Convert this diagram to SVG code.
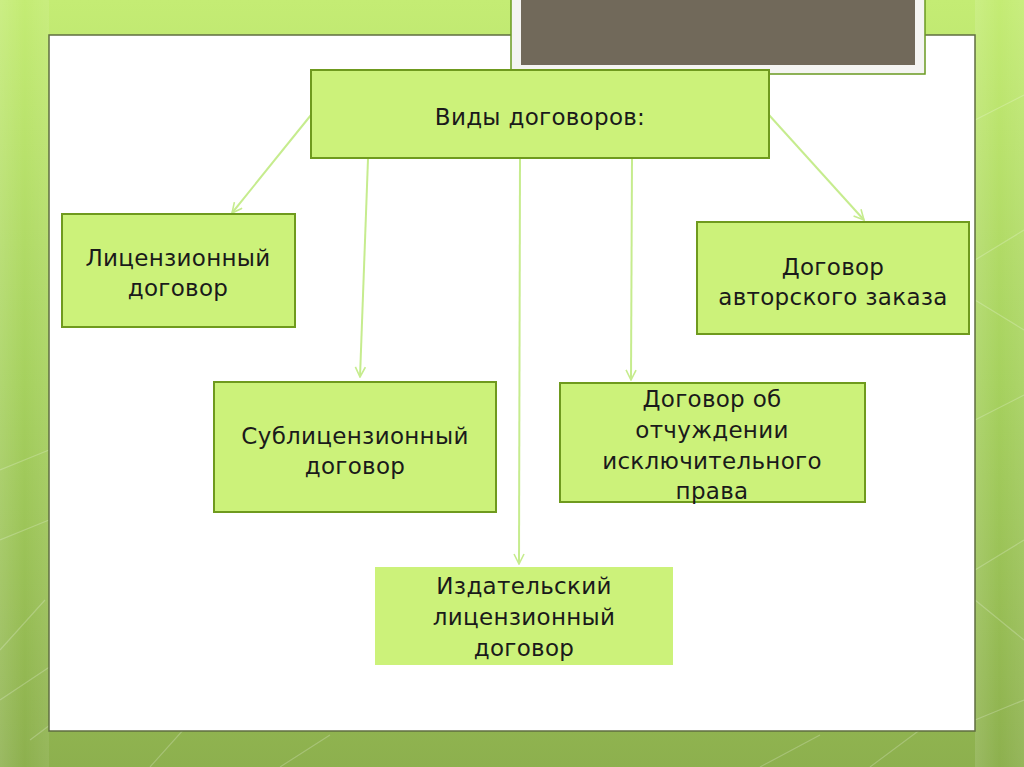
<svg xmlns="http://www.w3.org/2000/svg" width="1024" height="767" viewBox="0 0 1024 767">
<defs>
<linearGradient id="bg" x1="0" y1="0" x2="0" y2="1">
<stop offset="0" stop-color="#c4ec74"/>
<stop offset="0.5" stop-color="#a6d15e"/>
<stop offset="1" stop-color="#8db04e"/>
</linearGradient>
<linearGradient id="side" x1="0" y1="0" x2="1" y2="0">
<stop offset="0" stop-color="#ffffff" stop-opacity="0.12"/>
<stop offset="0.5" stop-color="#ffffff" stop-opacity="0"/>
<stop offset="1" stop-color="#ffffff" stop-opacity="0.08"/>
</linearGradient>
<marker id="arr" viewBox="0 0 12 12" refX="11" refY="6" markerWidth="12" markerHeight="12" markerUnits="userSpaceOnUse" orient="auto">
<path d="M1,1 L11,6 L1,11" fill="none" stroke="#c6ec8e" stroke-width="1.6"/>
</marker>
</defs>
<style>
.node rect{fill:#ccf27a;stroke:#6f9a1e;stroke-width:2}
.node text{font-family:"DejaVu Sans","Liberation Sans",sans-serif;font-size:23px;fill:#1a1a1a;text-anchor:middle;letter-spacing:0.3px}
.conn line{stroke:#c6ec8e;stroke-width:2;marker-end:url(#arr)}
.deco{stroke:#ffffff;stroke-opacity:0.22;stroke-width:1.2;fill:none}
</style>
<rect x="0" y="0" width="1024" height="767" fill="url(#bg)"/>
<rect x="0" y="0" width="49" height="767" fill="url(#side)"/>
<rect x="975" y="0" width="49" height="767" fill="url(#side)"/>
<g class="deco">
<path d="M0,700 L60,660 M0,650 L45,600 M30,740 L110,680 M150,767 L210,700 M280,767 L330,735 M760,767 L820,735 M870,767 L960,700 M975,120 L1024,95 M975,260 L1024,230 M975,300 L1024,330 M975,420 L1024,395 M975,570 L1024,540 M975,600 L1024,640 M975,720 L1024,700 M0,540 L49,520 M0,470 L49,450"/>
</g>
<rect x="49" y="35" width="926" height="696" fill="#ffffff" stroke="#5f6d40" stroke-width="1.5"/>
<g id="title-frame">
<rect x="511" y="-2" width="414" height="76" fill="#f4f4f2" stroke="#6a9a20" stroke-width="1.5"/>
<rect x="521" y="0" width="394" height="65" fill="#71695a"/>
</g>
<g class="conn">
<line x1="311" y1="115" x2="232" y2="213"/>
<line x1="368" y1="159" x2="360" y2="377"/>
<line x1="520" y1="159" x2="519" y2="564"/>
<line x1="632" y1="159" x2="631" y2="380"/>
<line x1="769" y1="115" x2="864" y2="220"/>
</g>
<g id="n-root" class="node">
<rect x="311" y="70" width="458" height="88"/>
<text x="540" y="125">Виды договоров:</text>
</g>
<g id="n-license" class="node">
<rect x="62" y="214" width="233" height="113"/>
<text x="178" y="266">Лицензионный</text>
<text x="178" y="296">договор</text>
</g>
<g id="n-author" class="node">
<rect x="697" y="222" width="272" height="112"/>
<text x="833" y="275">Договор</text>
<text x="833" y="305">авторского заказа</text>
</g>
<g id="n-sublicense" class="node">
<rect x="214" y="382" width="282" height="130"/>
<text x="355" y="444">Сублицензионный</text>
<text x="355" y="474">договор</text>
</g>
<g id="n-alienation" class="node">
<rect x="560" y="383" width="305" height="119"/>
<text x="712" y="407">Договор об</text>
<text x="712" y="438">отчуждении</text>
<text x="712" y="469">исключительного</text>
<text x="712" y="499">права</text>
</g>
<g id="n-publishing" class="node">
<rect x="375" y="567" width="298" height="98" style="stroke:none"/>
<text x="524" y="594">Издательский</text>
<text x="524" y="625">лицензионный</text>
<text x="524" y="656">договор</text>
</g>
</svg>
